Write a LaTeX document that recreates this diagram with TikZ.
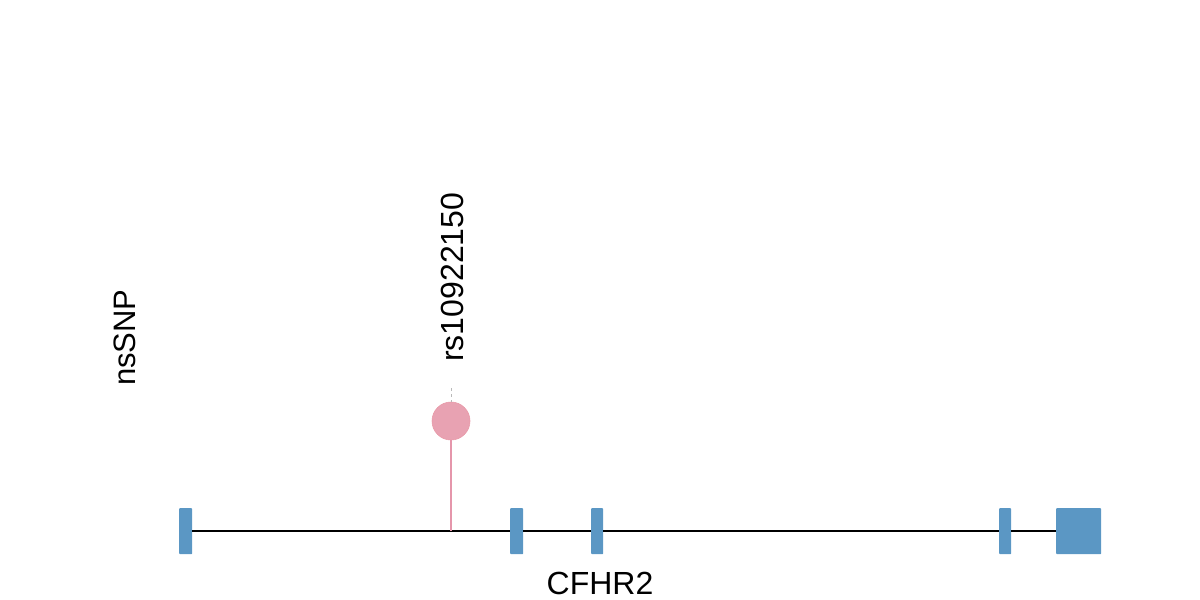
\documentclass[tikz,border=0pt]{standalone}
\usepackage{fontspec}
\setmainfont{Liberation Sans}
\begin{document}
\begin{tikzpicture}[x=1pt,y=-1pt,
  exon/.style={fill=exonblue,draw=none,inner sep=0,minimum height=46pt,rounded corners=0.8pt,anchor=north west},
  lbl/.style={inner sep=0,font=\fontsize{32}{32}\selectfont}]
\definecolor{exonblue}{HTML}{5B97C4}
\definecolor{snppink}{HTML}{E8A2B2}
\definecolor{stempink}{HTML}{E596AB}
\useasboundingbox (0,0) rectangle (1200,600);
% exons
\node[exon,minimum width=13pt] (e1) at (179,508) {};
\node[exon,minimum width=13pt] (e2) at (510,508) {};
\node[exon,minimum width=12pt] (e3) at (591,508) {};
\node[exon,minimum width=12pt] (e4) at (999,508) {};
\node[exon,minimum width=45pt] (e5) at (1056,508) {};
% backbone
\begin{scope}[on background layer/.try]
\end{scope}
\coordinate (b) at (451,531);
\draw[line width=2pt,black] (e1.east |- 0,531) -- (e2.west |- 0,531);
\draw[line width=2pt,black] (e2.east |- 0,531) -- (e3.west |- 0,531);
\draw[line width=2pt,black] (e3.east |- 0,531) -- (e4.west |- 0,531);
\draw[line width=2pt,black] (e4.east |- 0,531) -- (e5.west |- 0,531);
% snp
\node[circle,fill=snppink,draw=snppink!95!red,line width=0.6pt,minimum size=38pt,inner sep=0] (snp) at (451,421) {};
\draw[stempink,line width=1.8pt] (b) -- (snp.south);
\coordinate (d1) at (451,388);
\draw[gray!55,line width=1pt,dash pattern=on 3pt off 3pt] (d1) -- (snp.north);
% labels
\node[lbl,rotate=90,anchor=base west] (rs) at (463,362) {rs10922150};
\node[lbl,rotate=90,anchor=base west,font=\fontsize{31}{31}\selectfont] (ns) at (135,386) {nsSNP};
\node[lbl,anchor=base] (gene) at (600,594) {CFHR2};
\end{tikzpicture}
\end{document}
